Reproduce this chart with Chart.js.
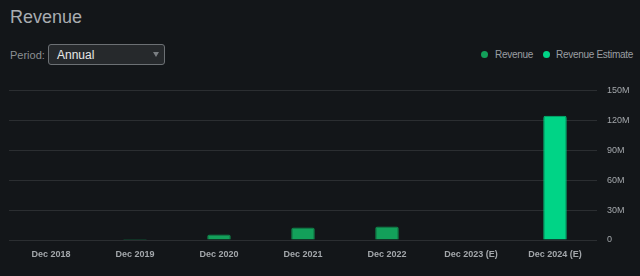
<!DOCTYPE html>
<html>
<head>
<meta charset="utf-8">
<script src="https://cdn.jsdelivr.net/npm/chart.js@4"></script>
<style>
  html, body { margin: 0; padding: 0; background: #131619; width: 640px; height: 276px; overflow: hidden; font-family: "Liberation Sans", Arial, sans-serif; }
  #title { position: absolute; left: 10px; top: 7px; font-size: 18px; color: #a9adb1; }
  #period { position: absolute; left: 10px; top: 49px; font-size: 11px; color: #8b8f93; }
  #select { position: absolute; left: 48px; top: 44px; width: 117px; height: 21px; border: 1px solid #6c7074; border-radius: 3px; background: #26292c; box-sizing: border-box; }
  #select span { position: absolute; left: 8px; top: 3px; font-size: 12px; color: #e8e8e8; }
  #select i { position: absolute; right: 5px; top: 7px; width: 0; height: 0; border-left: 3px solid transparent; border-right: 3px solid transparent; border-top: 5px solid #7a7e82; }
  .leg { position: absolute; top: 49px; font-size: 10px; letter-spacing: -0.3px; color: #9a9ea2; white-space: nowrap; }
  .dot { position: absolute; top: 51px; width: 7px; height: 7px; border-radius: 50%; }
  #wrap { position: absolute; left: 0; top: 75px; width: 640px; height: 201px; }
</style>
</head>
<body>
<div id="title">Revenue</div>
<div id="period">Period:</div>
<div id="select"><span>Annual</span><i></i></div>
<div class="dot" style="left:481px;background:#13a05a"></div>
<div class="leg" style="left:495px">Revenue</div>
<div class="dot" style="left:543px;background:#00d486"></div>
<div class="leg" style="left:556px">Revenue Estimate</div>
<div id="wrap"><canvas id="revenueChart"></canvas></div>
<script>
var categories = ['Dec 2018', 'Dec 2019', 'Dec 2020', 'Dec 2021', 'Dec 2022', 'Dec 2023 (E)', 'Dec 2024 (E)'];
var revenue = [0, 1, 5.5, 12.5, 13.5, null, null];
var revenueEstimate = [null, null, null, null, null, null, 124.5];
var yTicks = [0, 30, 60, 90, 120, 150];

document.addEventListener('DOMContentLoaded', (event) => {
    var ctx = document.getElementById('revenueChart').getContext('2d');
    var revenueChart = new Chart(ctx, {
        type: 'bar',
        data: {
            labels: categories,
            datasets: [{
                label: 'Revenue',
                data: revenue,
                backgroundColor: '#13a05a',
                borderColor: '#0f8a4c',
                borderWidth: 1,
                borderRadius: 2,
                grouped: false
            }, {
                label: 'Revenue Estimate',
                data: revenueEstimate,
                backgroundColor: '#00d486',
                borderColor: '#00b873',
                borderWidth: 1,
                borderRadius: 2,
                grouped: false
            }]
        },
        options: {
            responsive: true,
            maintainAspectRatio: false,
            animation: false,
            datasets: { bar: { barPercentage: 0.28, categoryPercentage: 1 } },
            layout: { padding: { left: 9, top: 5, right: 0, bottom: 0 } },
            plugins: { legend: { display: false }, tooltip: { enabled: false } },
            scales: {
                x: {
                    afterFit: function (axis) { axis.height = 36; },
                    grid: { display: false, drawTicks: false },
                    border: { display: false },
                    ticks: { color: '#a3a7ab', font: { size: 9, weight: 'bold', family: 'Liberation Sans' }, padding: 9, maxRotation: 0 }
                },
                y: {
                    position: 'right',
                    min: 0,
                    max: 150,
                    afterBuildTicks: function (axis) { axis.ticks = yTicks.map(v => ({ value: v })); },
                    afterFit: function (axis) { axis.width = 43; },
                    grid: { color: '#2b2e31', drawTicks: false },
                    border: { display: false },
                    ticks: {
                        color: '#a3a7ab',
                        font: { size: 9, family: 'Liberation Sans' },
                        padding: 10,
                        callback: function (v) { return v === 0 ? '0' : v + 'M'; }
                    }
                }
            }
        }
    });
});
</script>
</body>
</html>
